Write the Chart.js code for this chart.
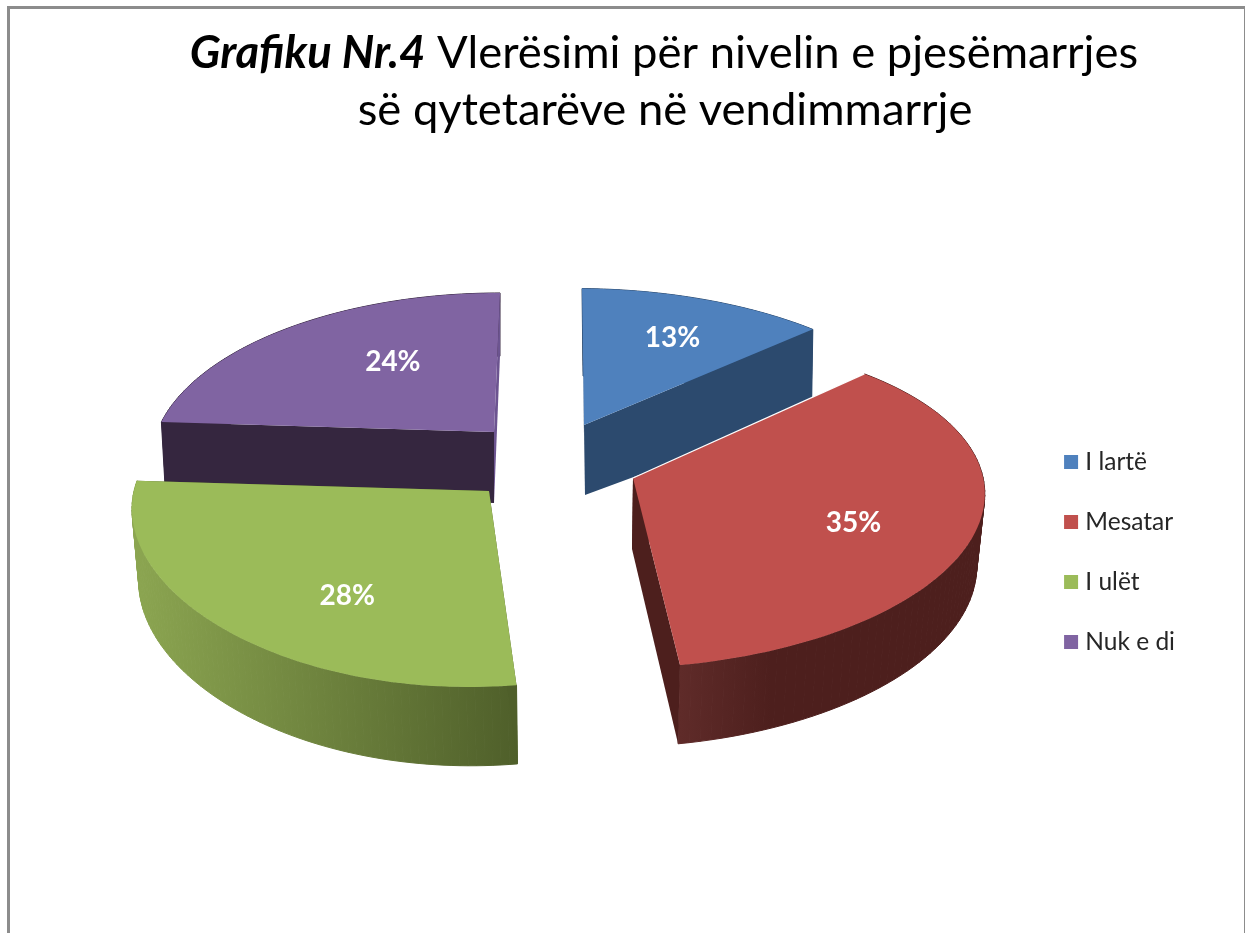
<!DOCTYPE html>
<html>
<head>
<meta charset="utf-8">
<script src="https://cdn.jsdelivr.net/npm/chart.js@4"></script>
<style>
  html, body { margin: 0; background: #fff; }
  #wrap { position: relative; width: 1245px; height: 933px; overflow: hidden; }
  #frame { position: absolute; left: 7px; top: 6px; width: 1234px; height: 930px; border: solid #8c8c8c; border-width: 3px 1px 0 3px; }
  canvas { position: absolute; left: 0; top: 0; filter: blur(0.5px); }
</style>
</head>
<body>
<div id="wrap">
  <div id="frame"></div>
  <canvas id="chart" width="1245" height="933"></canvas>
</div>
<script>
const categories = ['I lartë', 'Mesatar', 'I ulët', 'Nuk e di']
const shares = [13, 35, 28, 24]
const titleBold = 'Grafiku Nr.4'
const titleLine1 = ' Vlerësimi për nivelin e pjesëmarrjes'
const titleLine2 = 'së qytetarëve në vendimmarrje'

const colors = ['#4f81bd', '#c0504d', '#9bbb59', '#8064a2']
const FONT = 'Lato'

// how each exploded slice sits in the tilted view (one slice per category)
const K = 0.158 // perspective strength
const views = [
  { cx: 584, cy: 425, sx: 350, sy: 158, shearX: 2.3, shearY: 3, bend: 0, depth: 70, grow: -0.25, shrink: 0.99, dx: 1,
    wall: ['#2c4a6e', '#2c4a6e'], cutStart: '#1f3550', cutEnd: '#2c4a6e', label: [0.74, 0.69] },
  { cx: 633, cy: 478, sx: 348, sy: 160, shearX: -4, shearY: -8, bend: 0, depth: 71, grow: 0.11, shrink: 0.98, dx: -1,
    wall: ['#5f2b29', '#4d1f1d'], wallStop: 0.3, cutStart: '#4d1f1d', cutEnd: '#4d1f1d', edge: '#fff', label: [0.64, 0.91] },
  { cx: 489, cy: 491, sx: 355, sy: 165, shearX: -17, shearY: 0, bend: 0.1, depth: 71, grow: 0.11, shrink: 0.985, dx: 1.4,
    wall: ['#8ca651', '#4f5f2a'], cutStart: '#4f5f2a', cutEnd: '#4f5f2a', label: [0.528, 0.77] },
  { cx: 494, cy: 432, sx: 337, sy: 161, shearX: -7, shearY: 0, bend: 0, depth: 71, grow: 0.11, shrink: 0.988, dx: 0,
    wall: ['#35263f', '#35263f'], cutStart: '#35263f', cutEnd: '#6c5490', label: [0.5, 0.67] }
]
const drawOrder = [3, 0, 2, 1]

function project(v, angle, r) {
  const X = Math.cos(angle) * r
  const Y = Math.sin(angle) * r
  const w = 1 - K * Y
  return { ox: (v.sx * X * (1 - v.bend * Y) + v.shearX * Y) / w, oy: (v.sy * Y + v.shearY * X) / w, Y: Y }
}
function topPoint(v, p) { return [v.cx + p.ox, v.cy + p.oy] }
function bottomPoint(v, p) {
  return [v.cx + p.ox * v.shrink + v.dx, v.cy + p.oy + v.depth * (1 + v.grow * p.Y)]
}
function fillPoly(ctx, pts, fill) {
  ctx.beginPath()
  pts.forEach((p, i) => i ? ctx.lineTo(p[0], p[1]) : ctx.moveTo(p[0], p[1]))
  ctx.closePath()
  ctx.fillStyle = fill
  ctx.fill()
}

const pie3d = {
  id: 'pie3d',
  beforeDatasetsDraw(chart) {
    const ctx = chart.ctx
    const arcs = chart.getDatasetMeta(0).data
    drawOrder.forEach(i => {
      const v = views[i]
      const a0 = arcs[i].startAngle
      const a1 = arcs[i].endAngle
      const steps = 80
      const rim = []
      for (let s = 0; s <= steps; s++) rim.push(project(v, a0 + (a1 - a0) * s / steps, 1))
      const apex = project(v, 0, 0)
      const rimTop = rim.map(p => topPoint(v, p))
      const rimBottom = rim.map(p => bottomPoint(v, p))

      // curved wall as small quads (it folds over itself at the sides)
      const xs = rimTop.map(p => p[0])
      const minX = Math.min(...xs)
      const maxX = Math.max(...xs)
      const grad = ctx.createLinearGradient(minX, 0, maxX, 0)
      grad.addColorStop(0, v.wall[0])
      if (v.wallStop) grad.addColorStop(v.wallStop, v.wall[1])
      grad.addColorStop(1, v.wall[1])
      ctx.strokeStyle = grad
      ctx.lineWidth = 1
      for (let s = 0; s < steps; s++) {
        fillPoly(ctx, [rimTop[s], rimTop[s + 1], rimBottom[s + 1], rimBottom[s]], grad)
        ctx.stroke()
      }
      // cut faces, then the top face
      fillPoly(ctx, [topPoint(v, apex), rimTop[0], rimBottom[0], bottomPoint(v, apex)], v.cutStart)
      fillPoly(ctx, [topPoint(v, apex), rimTop[steps], rimBottom[steps], bottomPoint(v, apex)], v.cutEnd)
      fillPoly(ctx, [topPoint(v, apex)].concat(rimTop), colors[i])
      if (v.edge) {
        ctx.beginPath()
        ctx.moveTo(topPoint(v, apex)[0], topPoint(v, apex)[1])
        ctx.lineTo(rimTop[0][0], rimTop[0][1])
        ctx.strokeStyle = v.edge
        ctx.lineWidth = 1.2
        ctx.stroke()
      }
    })
    // percent labels
    ctx.font = 'bold 28px ' + FONT
    ctx.fillStyle = '#fff'
    ctx.textAlign = 'center'
    ctx.textBaseline = 'middle'
    arcs.forEach((arc, i) => {
      const v = views[i]
      const p = project(v, (arc.startAngle + arc.endAngle) / 2, 1)
      ctx.fillText(shares[i] + '%', v.cx + p.ox * v.label[0], v.cy + p.oy * v.label[1])
    })
    return false
  },
  afterDraw(chart) {
    const ctx = chart.ctx
    ctx.save()
    ctx.fillStyle = '#000'
    ctx.textBaseline = 'alphabetic'
    ctx.textAlign = 'left'
    const boldFont = 'italic bold 45.4px ' + FONT
    const normalFont = '45.4px ' + FONT
    ctx.font = boldFont
    const w1 = ctx.measureText(titleBold).width
    ctx.font = normalFont
    const w2 = ctx.measureText(titleLine1).width
    const startX = 664 - (w1 + w2) / 2
    ctx.font = boldFont
    ctx.fillText(titleBold, startX, 68)
    ctx.font = normalFont
    ctx.fillText(titleLine1, startX + w1, 68)
    ctx.textAlign = 'center'
    ctx.fillText(titleLine2, 665, 125)
    ctx.restore()
  }
}

new Chart(document.getElementById('chart'), {
  type: 'pie',
  data: {
    labels: categories,
    datasets: [{ data: shares, backgroundColor: colors, borderWidth: 0 }]
  },
  options: {
    responsive: false,
    animation: false,
    layout: { padding: { top: 171, right: 60 } },
    plugins: {
      tooltip: { enabled: false },
      legend: {
        position: 'right',
        labels: {
          usePointStyle: true,
          pointStyle: 'rect',
          boxWidth: 4,
          boxHeight: 14,
          padding: 35.5,
          color: '#262626',
          font: { family: FONT, size: 24.5 }
        }
      }
    }
  },
  plugins: [pie3d]
})
</script>
</body>
</html>
